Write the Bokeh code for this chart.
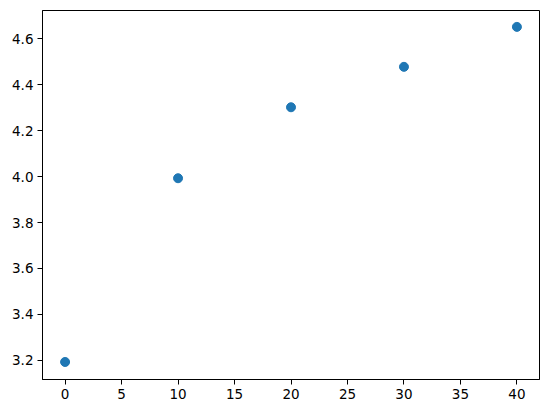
from bokeh.plotting import figure
from bokeh.models import FixedTicker, Range1d
from bokeh.embed import file_html
from bokeh.resources import INLINE

x_vals = [0, 10, 20, 30, 40]
y_vals = [3.193, 3.993, 4.302, 4.478, 4.652]
x_ticks = [0, 5, 10, 15, 20, 25, 30, 35, 40]
y_ticks = [3.2, 3.4, 3.6, 3.8, 4.0, 4.2, 4.4, 4.6]

p = figure(width=547, height=413, output_backend="svg", toolbar_location=None,
           x_range=Range1d(-2, 42), y_range=Range1d(3.1167, 4.7233),
           min_border_left=42, min_border_right=8, min_border_top=10, min_border_bottom=34)
p.scatter(x_vals, y_vals, size=9, color="#1f77b4", line_color="#1f77b4")

p.xgrid.visible = False
p.ygrid.visible = False
p.outline_line_color = "black"
p.outline_line_width = 1
p.outline_line_alpha = 1
p.xaxis.ticker = FixedTicker(ticks=x_ticks)
p.yaxis.ticker = FixedTicker(ticks=y_ticks)
p.yaxis.major_label_overrides = {t: f"{t:.1f}" for t in y_ticks}
for ax in (p.xaxis, p.yaxis):
    ax.axis_line_color = "black"
    ax.major_tick_line_color = "black"
    ax.major_tick_out = 5
    ax.major_tick_in = 0
    ax.minor_tick_line_color = None
    ax.major_label_text_font = "DejaVu Sans"
    ax.major_label_text_font_size = "13.5px"
    ax.major_label_text_color = "black"
    ax.major_label_standoff = 4
p.background_fill_color = "white"
p.border_fill_color = "white"

open("out.html", "w").write(file_html(p, INLINE))
